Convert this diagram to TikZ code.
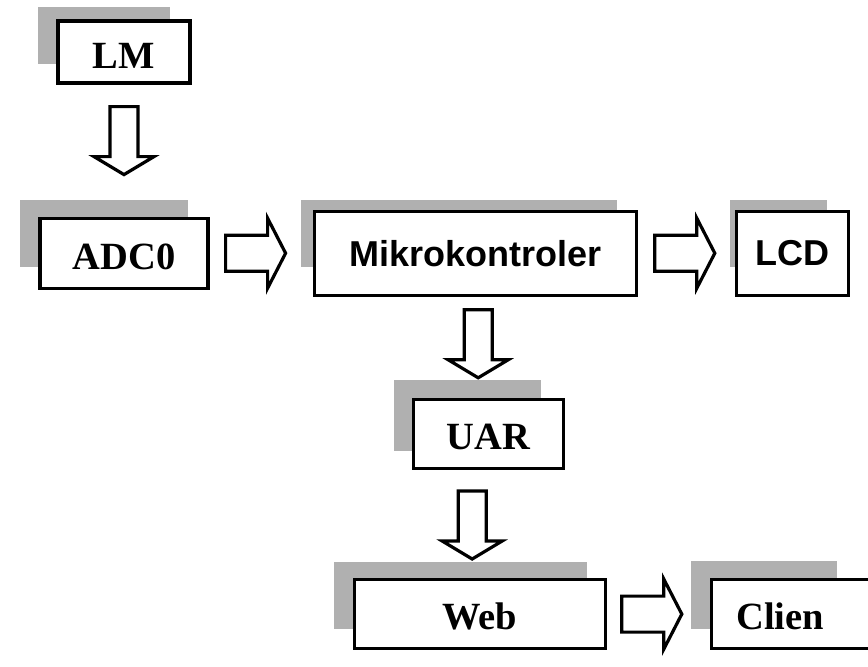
\documentclass[tikz,border=0pt]{standalone}
\usepackage{fontspec}
\setmainfont{Liberation Serif}
\setsansfont{Liberation Sans}
\usepackage{tikz}
\usetikzlibrary{positioning,calc,backgrounds}

\begin{document}
\begin{tikzpicture}[
    x=1pt, y=-1pt,
    boxnode/.style={rectangle, draw, line width=3.2pt, fill=white, inner sep=0pt},
    serifbox/.style={boxnode, font=\fontsize{38.5}{40}\selectfont\bfseries, text height=32pt},
    sansbox/.style={boxnode, font=\fontsize{36}{40}\selectfont\sffamily\bfseries},
    shadowfill/.style={fill=black!31},
    arrowline/.style={draw, line width=3.2pt, fill=white, line join=miter},
    downarrow/.pic={\path[arrowline] (-14,0) -- (14,0) -- (14,50) -- (30,50) -- (0,68) -- (-30,50) -- (-14,50) -- cycle;},
    rightarrow/.pic={\path[arrowline] (0,-18) -- (42,-18) -- (42,-35) -- (60,0) -- (42,35) -- (42,18) -- (0,18) -- cycle;}
]
\useasboundingbox (0,0) rectangle (868,667);
\clip (0,0) rectangle (868,667);

% Blocks
\node[serifbox, minimum width=132pt, minimum height=62pt] (lm) at (124,52) {LM};
\node[serifbox, minimum width=168pt, minimum height=70pt, below=132pt of lm] (adc) {ADC0};
\node[sansbox, minimum width=322pt, minimum height=84pt, right=103pt of adc] (mikro) {Mikrokontroler};
\node[sansbox, minimum width=112pt, minimum height=84pt, right=97pt of mikro] (lcd) {LCD};
\node[serifbox, minimum width=150pt, minimum height=69pt, below=101pt of mikro, xshift=13pt] (uar) {UAR};
\node[serifbox, minimum width=251pt, minimum height=69pt, below=108pt of uar, xshift=-8.5pt] (web) {Web};
\node[serifbox, minimum height=69pt, text width=144pt, inner xsep=25pt, align=left, right=103pt of web] (clien) {Clien};

% Grey shadows behind the blocks
\begin{scope}[on background layer]
\fill[shadowfill] ($(lm.north west)+(-18,-12)$) rectangle ($(lm.south east)+(-22,-21)$);
\fill[shadowfill] ($(adc.north west)+(-18,-17)$) rectangle ($(adc.south east)+(-22,-23)$);
\fill[shadowfill] ($(mikro.north west)+(-12,-10)$) rectangle ($(mikro.south east)+(-21,-30)$);
\fill[shadowfill] ($(lcd.north west)+(-5,-10)$) rectangle ($(lcd.south east)+(-23,-30)$);
\fill[shadowfill] ($(uar.north west)+(-18,-18)$) rectangle ($(uar.south east)+(-24,-19)$);
\fill[shadowfill] ($(web.north west)+(-19,-16)$) rectangle ($(web.south east)+(-20,-21)$);
\fill[shadowfill] ($(clien.north west)+(-19,-17)$) rectangle ($(clien.south east)+(-70,-21)$);
\end{scope}

% Block arrows
\pic at ($(lm.south)+(0,22)$) {downarrow};
\pic at ($(adc.east)+(16,0)$) {rightarrow};
\pic at ($(mikro.east)+(17,0)$) {rightarrow};
\pic at ($(mikro.south)+(3,13)$) {downarrow};
\pic at ($(uar.south)+(-16,21)$) {downarrow};
\pic at ($(web.east)+(15,0)$) {rightarrow};

\end{tikzpicture}
\end{document}
